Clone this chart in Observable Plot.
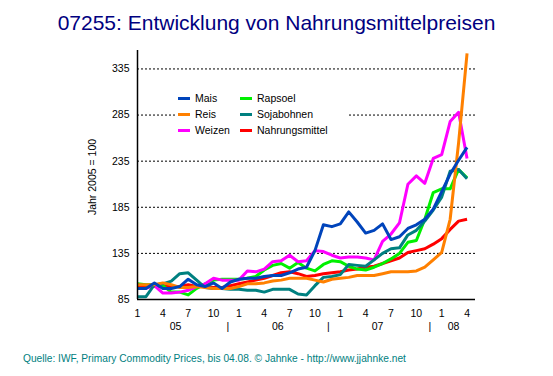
<!DOCTYPE html>
<html>
<head>
<meta charset="utf-8">
<script src="https://cdn.jsdelivr.net/npm/d3@7"></script>
<script src="https://cdn.jsdelivr.net/npm/@observablehq/plot@0.6"></script>
<style>
  html, body { margin: 0; padding: 0; background: #fff; }
  body { font-family: "Liberation Sans", Arial, sans-serif; }
  #wrap { position: relative; width: 553px; height: 376px; overflow: hidden; background: #fff; }
  #title { position: absolute; left: 0; top: 12px; width: 553px; text-align: center; font-size: 21px; line-height: 21px; color: #000080; white-space: nowrap; }
  #chart { position: absolute; left: 0; top: 40px; }
  #ylabel { position: absolute; left: 32px; top: 171px; width: 120px; text-align: center; font-size: 10.5px; line-height: 12px; color: #000; transform: rotate(-90deg); white-space: nowrap; }
  #legend { position: absolute; left: 175px; top: 88px; width: 173px; height: 52px; background: #fff; }
  #legend .sw { position: absolute; width: 12px; height: 3px; }
  #legend .lb { position: absolute; font-size: 10.5px; line-height: 12px; color: #000; white-space: nowrap; }
  #caption { position: absolute; left: 23px; top: 353px; font-size: 10.2px; line-height: 11px; color: #008080; white-space: nowrap; }
</style>
</head>
<body>
<div id="wrap">
  <div id="title"></div>
  <div id="chart"></div>
  <div id="ylabel"></div>
  <div id="legend"></div>
  <div id="caption"></div>
</div>
<script>
// ---- Data (monthly, index 0 = Jan 2005 ... 39 = Apr 2008; Jahr 2005 = 100) ----
const monthIndex = [0,1,2,3,4,5,6,7,8,9,10,11,12,13,14,15,16,17,18,19,20,21,22,23,24,25,26,27,28,29,30,31,32,33,34,35,36,37,38,39];

const seriesNames = ["Mais", "Reis", "Weizen", "Rapsoel", "Sojabohnen", "Nahrungsmittel"];
const seriesColors = ["#0044bb", "#ff8000", "#ff00ff", "#00f000", "#008080", "#ff0000"];

const mais = [97,97,103,97,97,99,107,101,99,103,97,104,107,108,108,110,111,111,114,118,120,138,166,164,167,180,169,157,160,167,150,153,162,166,172,183,202,221,236,250];
const reis = [101,101,101,103,101,98,98,99,98,97,97,97,99,102,102,103,105,106,108,108,108,106,104,107,108,109,111,111,111,113,115,115,115,116,120,128,136,172,255,352];
const weizen = [97,97,100,92,92,93,95,99,102,108,106,106,106,116,115,118,126,127,133,126,127,138,137,133,130,131,131,130,128,148,156,168,210,219,211,238,242,278,288,238];
const rapsoel = [102,101,101,100,93,93,90,97,102,106,107,107,107,108,110,117,122,124,119,125,119,116,123,127,126,121,118,117,120,124,129,135,147,149,172,201,205,205,226,217];
const sojabohnen = [88,88,101,102,105,113,114,106,98,97,97,96,96,95,95,93,96,96,96,91,90,100,109,110,112,123,122,121,128,135,140,141,155,160,170,182,196,224,226,216];
const nahrungsmittel = [99,99,99,99,99,99,101,99,99,98,98,100,102,104,106,108,111,114,115,113,110,111,113,114,115,117,118,120,121,124,127,130,136,138,140,145,151,161,170,172];

const yTicks = [85, 135, 185, 235, 285, 335];
const gridValues = [135, 185, 235, 285, 335];
const monthTickPos = [0,3,6,9,12,15,18,21,24,27,30,33,36,39];
const monthTickLabels = ["1","4","7","10","1","4","7","10","1","4","7","10","1","4"];
const yearLabels = ["05", "06", "07", "08"];
const yearLabelPos = [4.5, 16.6, 28.4, 37.4];
const yearSepPos = [10.7, 22.6, 34.6];

const titleText = "07255: Entwicklung von Nahrungsmittelpreisen";
const yLabelText = "Jahr 2005 = 100";
const captionText = "Quelle: IWF, Primary Commodity Prices, bis 04.08. © Jahnke - http://www.jjahnke.net";

// ---- Build table ----
const valuesByName = {Mais: mais, Reis: reis, Weizen: weizen, Rapsoel: rapsoel, Sojabohnen: sojabohnen, Nahrungsmittel: nahrungsmittel};
const drawOrder = ["Nahrungsmittel", "Rapsoel", "Weizen", "Sojabohnen", "Reis", "Mais"];
const lineMarks = drawOrder.map(name => {
  const vals = valuesByName[name];
  const rows = monthIndex.map((m, k) => ({m, v: vals[k]}));
  return Plot.line(rows, {x: "m", y: "v", stroke: seriesColors[seriesNames.indexOf(name)], strokeWidth: 3, strokeLinejoin: "round", strokeLinecap: "butt"});
});

const chart = Plot.plot({
  width: 553,
  height: 300,
  marginLeft: 137,
  marginRight: 78,
  marginTop: 10,
  marginBottom: 41,
  x: {domain: [0, 40], axis: null},
  y: {domain: [85, 355], axis: null},
  style: {fontFamily: "'Liberation Sans', Arial, sans-serif", fontSize: "10.5px", color: "#000", background: "transparent", overflow: "visible"},
  marks: [
    Plot.ruleY(gridValues, {x1: 0, x2: 40, stroke: "#000", strokeWidth: 1, strokeDasharray: "2,2"}),
    ...lineMarks,
    Plot.ruleX([0], {y1: 85, y2: 355, stroke: "#000", strokeWidth: 1.5}),
    Plot.ruleY([85], {x1: 0, x2: 40, stroke: "#000", strokeWidth: 1.5}),
    Plot.axisY({ticks: yTicks, tickSize: 0, tickPadding: 8, tickFormat: d => String(d), label: null, fontSize: 10.5}),
    Plot.axisX({ticks: monthTickPos, tickSize: 0, tickPadding: 10, tickFormat: d => monthTickLabels[monthTickPos.indexOf(d)], label: null, fontSize: 10.5}),
    Plot.text(yearLabels, {x: yearLabelPos, text: d => d, frameAnchor: "bottom", dy: 30, lineAnchor: "bottom", fontSize: 10.5, fill: "#000"}),
    Plot.text(yearSepPos, {x: d => d, text: () => "|", frameAnchor: "bottom", dy: 30, lineAnchor: "bottom", fontSize: 10.5, fill: "#000"})
  ]
});
document.getElementById("chart").appendChild(chart);

document.getElementById("title").textContent = titleText;
document.getElementById("ylabel").textContent = yLabelText;
document.getElementById("caption").textContent = captionText;

// ---- Legend (two columns, three rows) ----
const legend = document.getElementById("legend");
const legendCols = [[0, 1, 2], [3, 4, 5]];
const colX = [3, 65];
const rowY = [10, 26, 42];
legendCols.forEach((col, c) => {
  col.forEach((si, r) => {
    const sw = document.createElement("div");
    sw.className = "sw";
    sw.style.left = colX[c] + "px";
    sw.style.top = (rowY[r] - 1.5) + "px";
    sw.style.background = seriesColors[si];
    legend.appendChild(sw);
    const lb = document.createElement("div");
    lb.className = "lb";
    lb.style.left = (colX[c] + 17) + "px";
    lb.style.top = (rowY[r] - 6) + "px";
    lb.textContent = seriesNames[si];
    legend.appendChild(lb);
  });
});
</script>
</body>
</html>
